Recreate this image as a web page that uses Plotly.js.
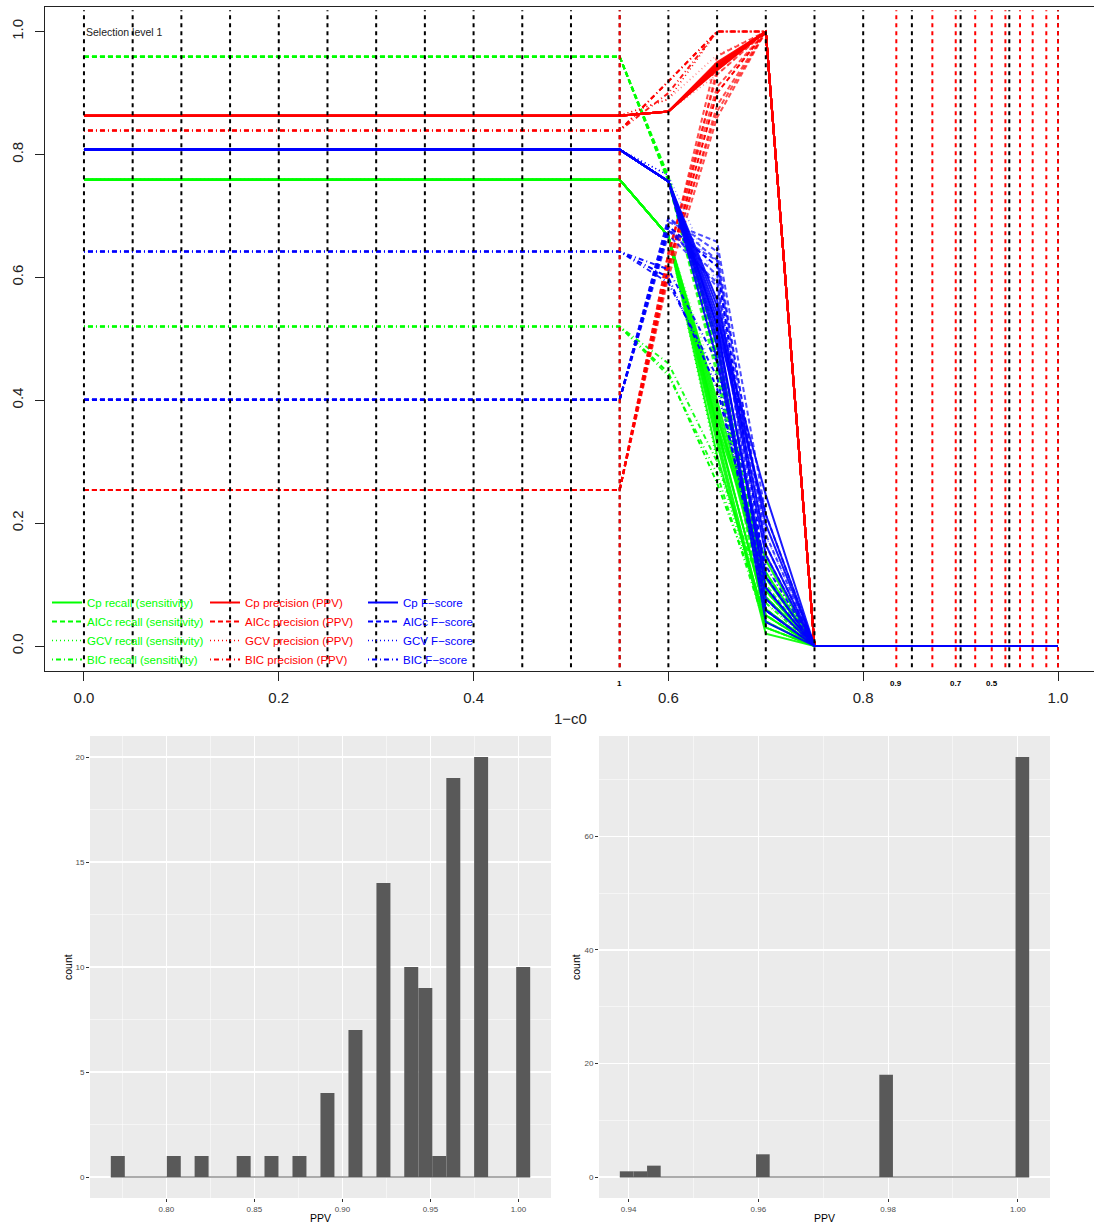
<!DOCTYPE html>
<html>
<head>
<meta charset="utf-8">
<script src="https://cdn.plot.ly/plotly-3.0.1.min.js"></script>
<style>html,body{margin:0;padding:0;background:#fff;}#chart{width:1094px;height:1225px;}</style>
</head>
<body>
<div id="chart"></div>
<script>
// ---------- DATA: main plot ----------
const xGrid = [0,0.05,0.1,0.15,0.2,0.25,0.3,0.35,0.4,0.45,0.5,0.55,0.6,0.65,0.7,0.75,0.8,0.85,0.9,0.95,1.0];
const methods = ['Cp','AICc','GCV','BIC'];
// constant level for 1-c0 <= 0.55
const recallFlat    = [0.759, 0.959, 0.759, 0.520];
const precisionFlat = [0.863, 0.254, 0.863, 0.839];
const fscoreFlat    = [0.808, 0.401, 0.808, 0.642];
// replicate values at 1-c0 = 0.60, 0.65, 0.70
const cpRecallTails   = [[0.667,0.36,0.05],[0.667,0.34,0.03],[0.667,0.38,0.08],[0.667,0.33,0.02],[0.667,0.40,0.11],[0.667,0.35,0.06],[0.667,0.37,0.14],[0.667,0.31,0.04],[0.667,0.39,0.09],[0.667,0.36,0.12]];
const aiccRecallTails = [[0.760,0.47,0.06],[0.755,0.45,0.04],[0.765,0.49,0.09],[0.758,0.46,0.05],[0.762,0.50,0.12],[0.757,0.44,0.03],[0.763,0.48,0.08],[0.759,0.47,0.10]];
const gcvRecallTails  = [[0.667,0.30,0.03],[0.667,0.42,0.10],[0.667,0.35,0.07]];
const bicRecallTails  = [[0.445,0.265,0.05],[0.460,0.300,0.07],[0.440,0.280,0.03]];
const cpPrecTails     = [[0.870,0.943,1],[0.870,0.940,1],[0.870,0.946,1],[0.870,0.937,1],[0.870,0.950,1],[0.870,0.941,1],[0.870,0.944,1],[0.870,0.938,1],[0.870,0.948,1],[0.870,0.942,1]];
const aiccPrecTails   = [[0.62,0.90,1],[0.60,0.86,1],[0.64,0.93,1],[0.61,0.88,1],[0.63,0.96,1],[0.62,0.87,1],[0.64,0.91,1],[0.61,0.94,1]];
const gcvPrecTails    = [[0.890,1.000,1],[0.890,0.962,1],[0.870,0.930,1]];
const bicPrecTails    = [[0.919,1,1],[0.919,1,1],[0.900,1,1]];
const cpFTails        = [[0.756,0.521,0.095],[0.756,0.499,0.058],[0.756,0.542,0.148],[0.756,0.488,0.039],[0.756,0.563,0.198],[0.756,0.510,0.113],[0.756,0.532,0.246],[0.756,0.466,0.077],[0.756,0.553,0.165],[0.756,0.521,0.214]];
const aiccFTails      = [[0.683,0.618,0.113],[0.669,0.591,0.077],[0.697,0.642,0.165],[0.676,0.604,0.095],[0.690,0.658,0.214],[0.682,0.584,0.058],[0.696,0.628,0.148],[0.676,0.627,0.182]];
const gcvFTails       = [[0.766,0.46,0.058],[0.766,0.59,0.180],[0.756,0.50,0.130]];
const bicFTails       = [[0.600,0.419,0.095],[0.613,0.462,0.131],[0.591,0.438,0.058]];
const zeroTail = [0,0,0,0,0,0]; // 1-c0 = 0.75 ... 1.0

const blackLineX = [0,0.05,0.1,0.15,0.2,0.25,0.3,0.35,0.4,0.45,0.5,0.55,0.6,0.65,0.7,0.75,0.8,0.85,0.9,0.95,1.0];
const redLineX   = [0.55,0.834,0.871,0.895,0.915,0.932,0.946,0.961,0.974,0.988,1.0];
const redLabelX  = [0.55,0.834,0.895,0.932];
const redLabels  = ['1','0.9','0.7','0.5'];

// ---------- DATA: histograms ----------
const leftCenters = [0.7724,0.8042,0.8200,0.8439,0.8597,0.8756,0.8915,0.9074,0.9233,0.9391,0.9471,0.9550,0.9630,0.9788,1.0027];
const leftCounts  = [1,1,1,1,1,1,4,7,14,10,9,1,19,20,10];
const leftBinWidth = 0.00794;
const rightCenters = [0.9397,0.9418,0.9439,0.9607,0.9797,1.0007];
const rightCounts  = [1,1,2,4,18,74];
const rightBinWidth = 0.0021;

// ---------- build ----------
const GREEN='#00FF00', RED='#FF0000', BLUE='#0000FF';
const methodDash = ['solid','5px,3px','1px,3px','1px,3px,5px,3px'];
const methodWidth = [2,2,1.6,2];
const methodOpacity = [0.9,0.7,0.45,0.9];
const nFlat = xGrid.filter(x => x <= 0.55).length;

function yFor(flat, tail){
  const y = [];
  for (let i=0;i<nFlat;i++) y.push(flat);
  return y.concat(tail, zeroTail);
}
const traces = [];
function addGroup(flatArr, tailsArr, color, legendId, label){
  methods.forEach((m, mi) => {
    tailsArr[mi].forEach((tail, ri) => {
      traces.push({
        type:'scatter', mode:'lines', x:xGrid, y:yFor(flatArr[mi], tail),
        line:{color:color, width:methodWidth[mi], dash:methodDash[mi]},
        opacity: ri===0 ? 1 : methodOpacity[mi],
        name: m + ' ' + label, legend: legendId, legendgroup: m+label,
        showlegend: ri===0, legendrank: mi+1, hoverinfo:'skip',
        xaxis:'x', yaxis:'y'
      });
    });
  });
}
addGroup(recallFlat, [cpRecallTails,aiccRecallTails,gcvRecallTails,bicRecallTails], GREEN, 'legend', 'recall (sensitivity)');
addGroup(precisionFlat, [cpPrecTails,aiccPrecTails,gcvPrecTails,bicPrecTails], RED, 'legend2', 'precision (PPV)');
addGroup(fscoreFlat, [cpFTails,aiccFTails,gcvFTails,bicFTails], BLUE, 'legend3', 'F\u2212score');

// histograms
traces.push({type:'bar', x:leftCenters, y:leftCounts, width:leftBinWidth, marker:{color:'#595959', line:{width:0}}, xaxis:'x2', yaxis:'y2', showlegend:false, hoverinfo:'x+y'});
traces.push({type:'scatter', mode:'lines', x:[leftCenters[0]-leftBinWidth/2, leftCenters[leftCenters.length-1]+leftBinWidth/2], y:[0,0], line:{color:'#595959', width:1.2}, xaxis:'x2', yaxis:'y2', showlegend:false, hoverinfo:'skip'});
traces.push({type:'bar', x:rightCenters, y:rightCounts, width:rightBinWidth, marker:{color:'#595959', line:{width:0}}, xaxis:'x3', yaxis:'y3', showlegend:false, hoverinfo:'x+y'});
traces.push({type:'scatter', mode:'lines', x:[rightCenters[0]-rightBinWidth/2, rightCenters[rightCenters.length-1]+rightBinWidth/2], y:[0,0], line:{color:'#595959', width:1.2}, xaxis:'x3', yaxis:'y3', showlegend:false, hoverinfo:'skip'});

// shapes
const shapes = [];
shapes.push({type:'rect', xref:'x2 domain', yref:'y2 domain', x0:0, x1:1, y0:0, y1:1, fillcolor:'#EBEBEB', line:{width:0}, layer:'below'});
shapes.push({type:'rect', xref:'x3 domain', yref:'y3 domain', x0:0, x1:1, y0:0, y1:1, fillcolor:'#EBEBEB', line:{width:0}, layer:'below'});
blackLineX.forEach(v => shapes.push({type:'line', xref:'x', yref:'y domain', x0:v, x1:v, y0:0.005, y1:0.995, line:{color:'#000', width:2, dash:'4px,4px'}, layer:'above'}));
redLineX.forEach(v => shapes.push({type:'line', xref:'x', yref:'y domain', x0:v, x1:v, y0:0.005, y1:0.995, line:{color:'#FF0000', width:2, dash:'4px,4px'}, layer:'above'}));

// annotations
const FONT = 'Liberation Sans, Arial, Helvetica, sans-serif';
const annotations = [];
annotations.push({text:'Selection level 1', xref:'x', yref:'y', x:0, y:1.0, xanchor:'left', yanchor:'middle', showarrow:false, font:{family:FONT, size:10.5, color:'#222'}});
annotations.push({text:'1\u2212c0', xref:'x', yref:'paper', x:0.5, y:1-718/1225, xanchor:'center', yanchor:'middle', showarrow:false, font:{family:FONT, size:15, color:'#222'}});
redLabelX.forEach((v,i) => annotations.push({text:'<b>'+redLabels[i]+'</b>', xref:'x', yref:'paper', x:v, y:1-683/1225, xanchor:'center', yanchor:'middle', showarrow:false, font:{family:FONT, size:8, color:'#000'}}));
annotations.push({text:'count', xref:'paper', yref:'paper', x:68/1094, y:1-967/1225, textangle:-90, xanchor:'center', yanchor:'middle', showarrow:false, font:{family:FONT, size:10.5, color:'#000'}});
annotations.push({text:'count', xref:'paper', yref:'paper', x:576/1094, y:1-967/1225, textangle:-90, xanchor:'center', yanchor:'middle', showarrow:false, font:{family:FONT, size:10.5, color:'#000'}});
annotations.push({text:'PPV', xref:'paper', yref:'paper', x:320.5/1094, y:1-1218/1225, xanchor:'center', yanchor:'middle', showarrow:false, font:{family:FONT, size:10.5, color:'#000'}});
annotations.push({text:'PPV', xref:'paper', yref:'paper', x:824.5/1094, y:1-1218/1225, xanchor:'center', yanchor:'middle', showarrow:false, font:{family:FONT, size:10.5, color:'#000'}});

const histX = {showline:false, zeroline:false, showgrid:true, gridcolor:'#FFFFFF', gridwidth:1.1, ticks:'outside', ticklen:3, tickcolor:'#333', tickwidth:1, tickfont:{family:FONT, size:8, color:'#4D4D4D'}};
function legendAt(px, color){
  return {x:px/1094, xanchor:'left', y:1-588/1225, yanchor:'top', bgcolor:'rgba(0,0,0,0)', borderwidth:0, font:{family:FONT, size:11.5, color:color}, tracegroupgap:0, traceorder:'normal'};
}
const layout = {
  width:1094, height:1225, margin:{l:0,r:0,t:0,b:0},
  paper_bgcolor:'#FFFFFF', plot_bgcolor:'rgba(0,0,0,0)',
  font:{family:FONT},
  showlegend:true,
  legend: legendAt(47, GREEN),
  legend2: legendAt(205, RED),
  legend3: legendAt(363, BLUE),
  xaxis:{domain:[45/1094,1], range:[-0.04, (1094-84)/974], anchor:'y', showgrid:false, zeroline:false, showline:true, mirror:true, linecolor:'#222', linewidth:1, ticks:'outside', ticklen:9, tickcolor:'#222', tickvals:[0,0.2,0.4,0.6,0.8,1.0], tickformat:'.1f', tickfont:{family:FONT, size:15, color:'#222'}, ticklabelstandoff:4},
  yaxis:{domain:[1-670.6/1225, 1-7/1225], range:[-0.04,1.04], anchor:'x', showgrid:false, zeroline:false, showline:true, mirror:false, linecolor:'#222', linewidth:1, ticks:'outside', ticklen:9, tickcolor:'#222', tickvals:[0,0.2,0.4,0.6,0.8,1.0], tickformat:'.1f', tickangle:-90, tickfont:{family:FONT, size:15, color:'#222'}, ticklabelstandoff:6},
  xaxis2: Object.assign({}, histX, {domain:[90/1094,551/1094], range:[0.7566,1.0185], anchor:'y2', tick0:0.8, dtick:0.05, tickformat:'.2f', minor:{tick0:0.775, dtick:0.05, showgrid:true, gridcolor:'#FFFFFF', gridwidth:0.5}}),
  yaxis2: Object.assign({}, histX, {domain:[1-1198/1225, 1-736/1225], range:[-1,21], anchor:'x2', tick0:0, dtick:5, minor:{tick0:2.5, dtick:5, showgrid:true, gridcolor:'#FFFFFF', gridwidth:0.5}}),
  xaxis3: Object.assign({}, histX, {domain:[599/1094,1050/1094], range:[0.93544,1.00496], anchor:'y3', tick0:0.94, dtick:0.02, tickformat:'.2f', minor:{tick0:0.95, dtick:0.02, showgrid:true, gridcolor:'#FFFFFF', gridwidth:0.5}}),
  yaxis3: Object.assign({}, histX, {domain:[1-1198/1225, 1-736/1225], range:[-3.7,77.7], anchor:'x3', tick0:0, dtick:20, minor:{tick0:10, dtick:20, showgrid:true, gridcolor:'#FFFFFF', gridwidth:0.5}}),
  shapes: shapes,
  annotations: annotations
};
Plotly.newPlot('chart', traces, layout, {displayModeBar:false, staticPlot:true});
</script>
</body>
</html>
